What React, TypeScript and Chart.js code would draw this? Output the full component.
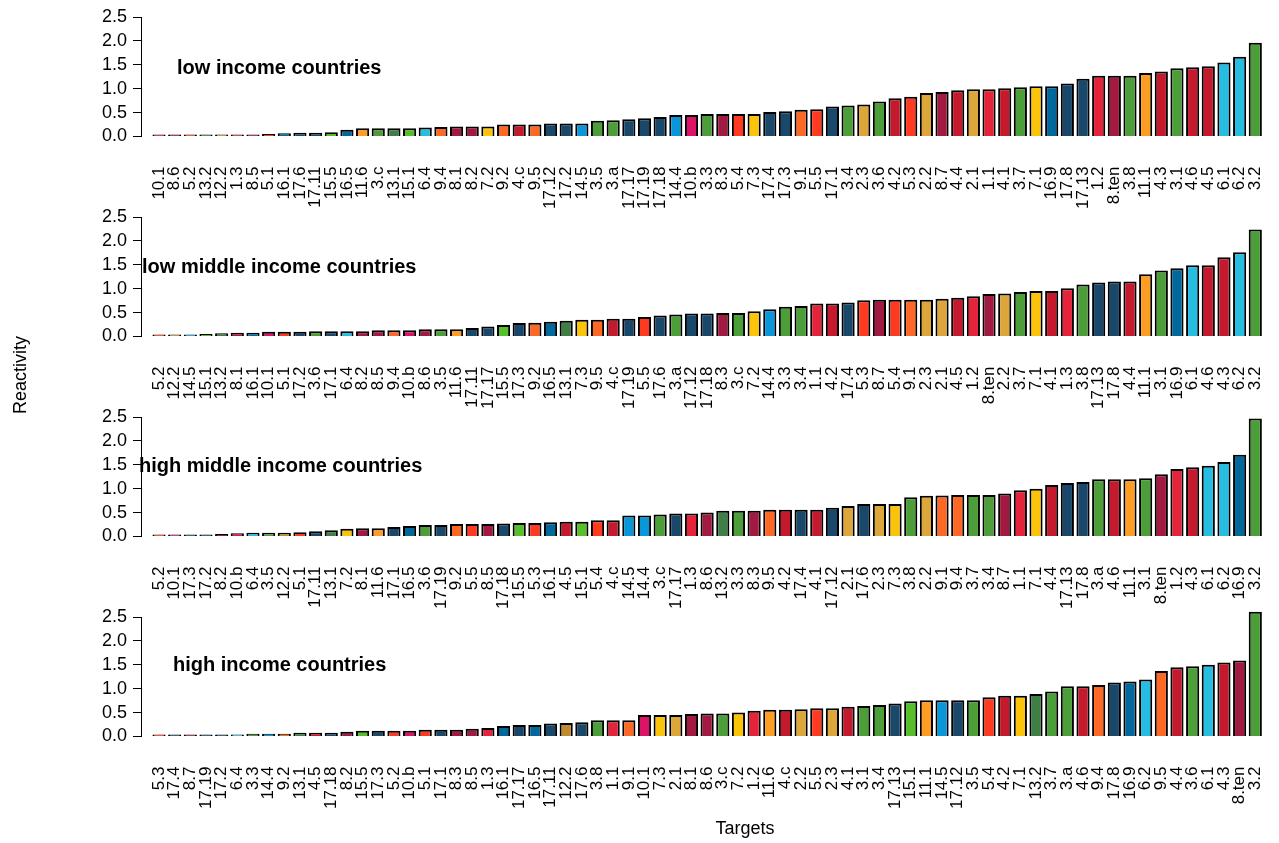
import React, { useEffect, useRef } from 'react';
import { Chart, registerables } from 'chart.js';

Chart.register(...registerables);

// ---------- data ----------
const lowIncomeTargets = ['10.1','8.6','5.2','13.2','12.2','1.3','8.5','5.1','16.1','17.6','17.11','15.5','16.5','11.6','3.c','13.1','15.1','6.4','9.4','8.1','8.2','7.2','9.2','4.c','9.5','17.12','17.2','14.5','3.5','3.a','17.17','17.19','17.18','14.4','10.b','3.3','8.3','5.4','7.3','17.4','17.3','9.1','5.5','17.1','3.4','2.3','3.6','4.2','5.3','2.2','8.7','4.4','2.1','1.1','4.1','3.7','7.1','16.9','17.8','17.13','1.2','8.ten','3.8','11.1','4.3','3.1','4.6','4.5','6.1','6.2','3.2'];
const lowIncomeValues = [0.005,0.005,0.005,0.005,0.02,0.03,0.03,0.05,0.07,0.08,0.08,0.09,0.14,0.17,0.17,0.17,0.17,0.19,0.20,0.21,0.21,0.21,0.25,0.25,0.25,0.27,0.27,0.27,0.33,0.34,0.36,0.38,0.41,0.45,0.45,0.47,0.47,0.47,0.47,0.51,0.53,0.56,0.57,0.63,0.65,0.67,0.73,0.80,0.83,0.91,0.93,0.97,0.99,0.99,1.01,1.03,1.05,1.05,1.11,1.21,1.27,1.27,1.27,1.33,1.36,1.43,1.45,1.47,1.55,1.67,1.96];

const lowMiddleTargets = ['5.2','12.2','14.5','15.1','13.2','8.1','16.1','10.1','5.1','17.2','3.6','17.1','6.4','8.2','8.5','9.4','10.b','8.6','3.5','11.6','17.11','17.17','15.5','17.3','9.2','16.5','13.1','7.3','9.5','4.c','17.19','5.5','17.6','3.a','17.12','17.18','8.3','3.c','7.2','14.4','3.3','3.4','1.1','4.2','17.4','5.3','8.7','5.4','9.1','2.3','2.1','4.5','1.2','8.ten','2.2','3.7','7.1','4.1','1.3','3.8','17.13','17.8','4.4','11.1','3.1','16.9','6.1','4.6','4.3','6.2','3.2'];
const lowMiddleValues = [0.005,0.005,0.03,0.05,0.07,0.08,0.08,0.10,0.10,0.10,0.11,0.11,0.11,0.11,0.13,0.13,0.13,0.15,0.15,0.15,0.18,0.21,0.24,0.28,0.29,0.31,0.33,0.35,0.35,0.37,0.37,0.41,0.44,0.46,0.48,0.48,0.49,0.49,0.53,0.57,0.62,0.64,0.69,0.69,0.71,0.76,0.77,0.77,0.77,0.77,0.79,0.81,0.84,0.89,0.90,0.93,0.95,0.95,1.01,1.09,1.13,1.15,1.15,1.30,1.38,1.43,1.49,1.49,1.66,1.76,2.24];

const highMiddleTargets = ['5.2','10.1','17.3','17.2','8.2','10.b','6.4','3.5','12.2','5.1','17.11','13.1','7.2','8.1','11.6','17.1','16.5','3.6','17.19','9.2','5.5','8.5','17.18','15.5','5.3','16.1','4.5','15.1','5.4','4.c','14.5','14.4','3.c','17.17','1.3','8.6','13.2','3.3','8.3','9.5','4.2','17.4','4.1','17.12','2.1','17.6','2.3','7.3','3.8','2.2','9.1','9.4','3.7','3.4','8.7','1.1','7.1','4.4','17.13','17.8','3.a','4.6','11.1','3.1','8.ten','1.2','4.3','6.1','6.2','16.9','3.2'];
const highMiddleValues = [0.005,0.03,0.03,0.03,0.05,0.07,0.08,0.08,0.08,0.09,0.11,0.13,0.16,0.17,0.17,0.20,0.22,0.24,0.24,0.26,0.26,0.26,0.27,0.28,0.28,0.30,0.31,0.31,0.34,0.34,0.44,0.44,0.46,0.48,0.48,0.50,0.54,0.54,0.54,0.56,0.56,0.56,0.56,0.60,0.64,0.68,0.68,0.68,0.82,0.85,0.86,0.87,0.87,0.87,0.90,0.97,1.00,1.08,1.12,1.14,1.20,1.20,1.20,1.22,1.30,1.41,1.45,1.48,1.56,1.71,2.47];

const highIncomeTargets = ['5.3','17.4','8.7','17.19','17.2','6.4','3.3','14.4','9.2','13.1','4.5','17.18','8.2','15.5','17.3','5.2','10.b','5.1','17.1','8.3','8.5','1.3','16.1','17.17','16.5','17.11','12.2','17.6','3.8','1.1','9.1','10.1','7.3','2.1','8.1','8.6','3.c','7.2','1.2','11.6','4.c','2.2','5.5','2.3','4.1','3.1','3.4','17.13','15.1','11.1','14.5','17.12','3.5','5.4','4.2','7.1','13.2','3.7','3.a','4.6','9.4','17.8','16.9','6.2','9.5','4.4','3.6','6.1','4.3','8.ten','3.2'];
const highIncomeValues = [0.005,0.005,0.01,0.02,0.04,0.04,0.06,0.06,0.06,0.08,0.08,0.08,0.10,0.12,0.12,0.12,0.12,0.14,0.14,0.14,0.16,0.18,0.22,0.24,0.24,0.27,0.28,0.30,0.34,0.34,0.34,0.45,0.45,0.45,0.47,0.48,0.48,0.50,0.54,0.56,0.56,0.57,0.59,0.59,0.62,0.64,0.66,0.69,0.74,0.76,0.76,0.76,0.76,0.82,0.85,0.85,0.89,0.94,1.05,1.05,1.08,1.13,1.15,1.19,1.37,1.45,1.47,1.50,1.55,1.59,2.61];

const panelTitles = ['low income countries', 'low middle income countries', 'high middle income countries', 'high income countries'];
const yTicks = [0, 0.5, 1, 1.5, 2, 2.5];

// goal colours (goal 1 .. 17)
const goalColors = ['#E5243B','#DDA63A','#4C9F38','#C5192D','#FF3A21','#26BDE2','#FCC30B','#A21942','#FD6925','#DD1367','#FD9D24','#BF8B2E','#3F7E44','#0A97D9','#56C02B','#00689D','#19486A'];

const FONT = '"Liberation Sans", Arial, Helvetica, sans-serif';

const colorFor = (label: string) => goalColors[parseInt(label.split('.')[0], 10) - 1] || '#888';

type PanelProps = { labels: string[]; values: number[]; top: number };

const CANVAS_H = 215;
const PAD_TOP = 14;
const PLOT_H = 119.5;

function Panel({ labels, values, top }: PanelProps) {
  const ref = useRef<HTMLCanvasElement | null>(null);
  useEffect(() => {
    if (!ref.current) return;
    const chart = new Chart(ref.current, {
      type: 'bar',
      data: {
        datasets: [
          {
            data: values.map((v, i) => ({ x: i + 1, y: v })) as any,
            backgroundColor: labels.map(colorFor),
            borderColor: '#000000',
            borderWidth: 2,
            barPercentage: 0.84,
            categoryPercentage: 1,
            minBarLength: 2,
            clip: false as any,
          } as any,
        ],
      },
      options: {
        animation: false,
        responsive: false,
        layout: { padding: { top: PAD_TOP, right: 14, left: 0, bottom: 0 } },
        plugins: { legend: { display: false }, tooltip: { enabled: false }, title: { display: false } },
        scales: {
          x: {
            type: 'linear',
            min: -0.15,
            max: 71.62,
            offset: false,
            grid: { display: false },
            border: { display: false },
            afterBuildTicks: (s: any) => {
              s.ticks = labels.map((_, i) => ({ value: i + 1 }));
            },
            ticks: {
              autoSkip: false,
              minRotation: 90,
              maxRotation: 90,
              padding: 22,
              color: '#000',
              font: { family: FONT, size: 17 },
              callback: (v: any) => {
                const n = Math.round(Number(v));
                return n >= 1 && n <= labels.length ? labels[n - 1] : '';
              },
            },
            afterFit: (s: any) => {
              s.height = CANVAS_H - PAD_TOP - PLOT_H;
              s.paddingLeft = 0;
              s.paddingRight = 0;
            },
          } as any,
          y: {
            min: 0,
            max: 2.5,
            afterBuildTicks: (s: any) => {
              s.ticks = yTicks.map((v) => ({ value: v }));
            },
            grid: { drawOnChartArea: false, drawTicks: true, tickLength: 8, color: '#000', tickColor: '#000' },
            border: { display: true, color: '#000', width: 1 },
            ticks: {
              autoSkip: false,
              padding: 6,
              color: '#000',
              font: { family: FONT, size: 18 },
              callback: (v: any) => Number(v).toFixed(1),
            },
            afterFit: (s: any) => {
              s.width = 141;
              s.paddingTop = 0;
              s.paddingBottom = 0;
            },
          } as any,
        },
      },
    });
    return () => chart.destroy();
  }, [labels, values]);
  return (
    <canvas
      ref={ref}
      width={1279}
      height={CANVAS_H}
      style={{ position: 'absolute', left: 0, top, width: 1279, height: CANVAS_H }}
    />
  );
}

const panels = [
  { labels: lowIncomeTargets, values: lowIncomeValues },
  { labels: lowMiddleTargets, values: lowMiddleValues },
  { labels: highMiddleTargets, values: highMiddleValues },
  { labels: highIncomeTargets, values: highIncomeValues },
];
const titleLeft = [177, 142, 139, 173];

export default function App() {
  return (
    <div style={{ position: 'absolute', left: 0, top: 0, width: 1279, height: 843, background: '#fff', overflow: 'hidden', fontFamily: FONT }}>
      {panels.map((p, i) => (
        <Panel key={i} labels={p.labels} values={p.values} top={3 + 200 * i} />
      ))}
      {panelTitles.map((t, i) => (
        <div
          key={t}
          style={{
            position: 'absolute',
            left: titleLeft[i],
            top: 57 + 199 * i,
            fontSize: 20,
            lineHeight: '20px',
            fontWeight: 'bold',
            color: '#000',
            whiteSpace: 'nowrap',
          }}
        >
          {t}
        </div>
      ))}
      <div
        style={{
          position: 'absolute',
          left: 20 - 100,
          top: 375 - 11,
          width: 200,
          textAlign: 'center',
          fontSize: 18,
          lineHeight: '22px',
          transform: 'rotate(-90deg)',
          color: '#000',
        }}
      >
        Reactivity
      </div>
      <div
        style={{
          position: 'absolute',
          left: 745 - 100,
          top: 828 - 11,
          width: 200,
          textAlign: 'center',
          fontSize: 18,
          lineHeight: '22px',
          color: '#000',
        }}
      >
        Targets
      </div>
    </div>
  );
}
